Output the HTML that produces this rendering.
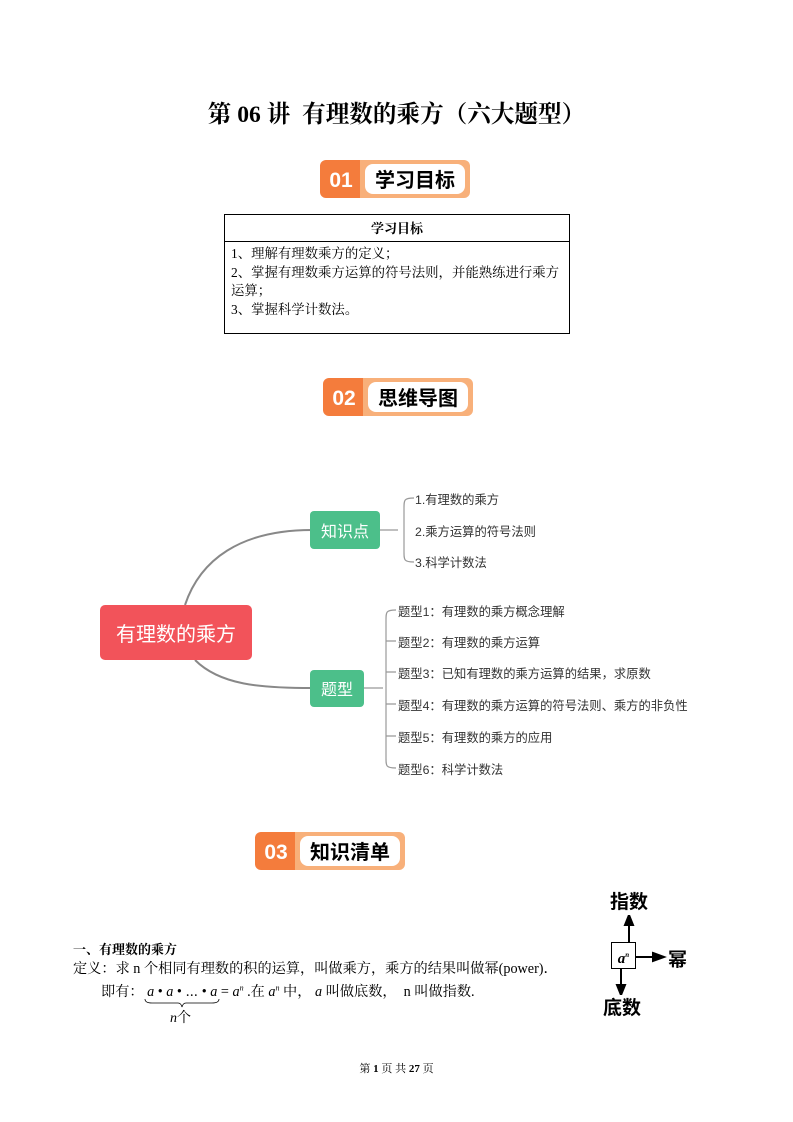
<!DOCTYPE html>
<html><head><meta charset="utf-8"><style>
body{margin:0;width:793px;height:1122px;background:#fff;position:relative;font-family:"Liberation Serif","Noto Serif CJK SC",serif;color:#000;overflow:hidden}
.a{position:absolute;white-space:nowrap}
.badge{position:absolute;width:150px;height:38px}
.badge .o{position:absolute;left:0;top:0;width:48px;height:38px;background:#f47c3c;border-radius:6px 0 0 6px;color:#fff;font:bold 21px "Liberation Sans",sans-serif;line-height:42px;text-align:center;padding-right:6px;box-sizing:border-box}
.badge .w{position:absolute;left:40px;top:0;width:110px;height:38px;background:#f8b07a;border-radius:0 6px 6px 0}
.badge .w div{position:absolute;left:5px;top:4px;right:5px;bottom:4px;background:#fff;border-radius:8px;font:bold 20px "Noto Sans CJK SC",sans-serif;line-height:30px;text-align:center}
.ss{font-family:"Liberation Sans","Noto Sans CJK SC",sans-serif;font-size:12.3px;color:#333}
</style></head><body>
<div class="a" style="left:0;width:793px;text-align:center;top:95px;font:bold 23.6px 'Liberation Serif','Noto Serif CJK SC',serif">第 06 讲&nbsp; 有理数的乘方（六大题型）</div>

<div class="badge" style="left:320px;top:160px"><div class="o">01</div><div class="w"><div>学习目标</div></div></div>
<div class="a" style="left:224px;top:214px;width:344px;height:118px;border:1px solid #000"></div>
<div class="a" style="left:224px;top:241px;width:346px;border-top:1px solid #000"></div>
<div class="a" style="left:224px;top:218px;width:346px;text-align:center;font-weight:bold;font-size:13px">学习目标</div>
<div class="a" style="left:231px;top:245px;font-size:13.4px;line-height:18.5px;white-space:normal;width:330px">1、理解有理数乘方的定义；<br>2、掌握有理数乘方运算的符号法则，并能熟练进行乘方运算；<br>3、掌握科学计数法。</div>

<div class="badge" style="left:323px;top:378px"><div class="o">02</div><div class="w"><div>思维导图</div></div></div>

<svg class="a" style="left:0;top:0" width="793" height="1122">
<g fill="none" stroke="#888" stroke-width="2">
<path d="M185 605 C200 560 240 530 312 530"/>
<path d="M195 660 C220 685 260 688 312 688"/>
</g>
<g fill="none" stroke="#999" stroke-width="1.2">
<path d="M380 530 H398"/>
<path d="M414 498 C404 498 404 500 404 508 V552 C404 560 404 562 414 562"/>
<path d="M364 688 H383"/>
<path d="M396 610 C386 610 386 612 386 620 V758 C386 766 386 768 396 768"/>
<path d="M386 641 C386 641 388 641 396 641 M386 672 H396 M386 704 H396 M386 736 H396"/>
</g>
</svg>
<div class="a" style="left:100px;top:605px;width:152px;height:55px;background:#f2535a;border-radius:5px;color:#fff;font:20px 'Noto Sans CJK SC',sans-serif;line-height:55px;text-align:center">有理数的乘方</div>
<div class="a" style="left:310px;top:511px;width:70px;height:38px;background:#4cbf8a;border-radius:4px;color:#fff;font:16px 'Noto Sans CJK SC',sans-serif;line-height:38px;text-align:center">知识点</div>
<div class="a" style="left:310px;top:670px;width:54px;height:37px;background:#4cbf8a;border-radius:4px;color:#fff;font:16px 'Noto Sans CJK SC',sans-serif;line-height:37px;text-align:center">题型</div>
<div class="a ss" style="left:415px;top:490px">1.有理数的乘方</div>
<div class="a ss" style="left:415px;top:522px">2.乘方运算的符号法则</div>
<div class="a ss" style="left:415px;top:553px">3.科学计数法</div>
<div class="a ss" style="left:398px;top:602px">题型1：有理数的乘方概念理解</div>
<div class="a ss" style="left:398px;top:633px">题型2：有理数的乘方运算</div>
<div class="a ss" style="left:398px;top:664px">题型3：已知有理数的乘方运算的结果，求原数</div>
<div class="a ss" style="left:398px;top:696px">题型4：有理数的乘方运算的符号法则、乘方的非负性</div>
<div class="a ss" style="left:398px;top:728px">题型5：有理数的乘方的应用</div>
<div class="a ss" style="left:398px;top:760px">题型6：科学计数法</div>

<div class="badge" style="left:255px;top:832px"><div class="o">03</div><div class="w"><div>知识清单</div></div></div>

<div class="a" style="left:73px;top:939px;font-weight:bold;font-size:13px">一、有理数的乘方</div>
<div class="a" style="left:73px;top:958px;font-size:14.2px">定义：求 n 个相同有理数的积的运算，叫做乘方，乘方的结果叫做幂(power)．</div>
<div class="a" style="left:101px;top:981px;font-size:14.2px">即有：&nbsp;<i>a</i> • <i>a</i> • ⋯ • <i>a</i> = <i>a</i><sup style="font-size:8px"><i>n</i></sup> .在 <i>a</i><sup style="font-size:8px"><i>n</i></sup> 中，&nbsp;<i>a</i> 叫做底数，&nbsp; n 叫做指数.</div>
<svg class="a" style="left:142px;top:997px" width="80" height="12"><path d="M3 2 Q3 6 10 6 H36 Q39 6 40 10 Q41 6 44 6 H70 Q77 6 77 2" fill="none" stroke="#000" stroke-width="0.8"/></svg>
<div class="a" style="left:170px;top:1007px;font-size:14px"><i>n</i>个</div>

<div class="a" style="left:610px;top:887px;font:bold 19px 'Noto Sans CJK SC',sans-serif">指数</div>
<div class="a" style="left:603px;top:993px;font:bold 19px 'Noto Sans CJK SC',sans-serif">底数</div>
<div class="a" style="left:668px;top:945px;font:bold 19px 'Noto Sans CJK SC',sans-serif">幂</div>
<div class="a" style="left:611px;top:942px;width:23px;height:25px;border:1px solid #000;font:bold italic 15px 'Liberation Serif',serif;line-height:25px;text-align:center">a<sup style="font-size:7px">n</sup></div>
<svg class="a" style="left:600px;top:915px" width="80" height="80">
<g stroke="#000" stroke-width="2" fill="#000">
<path d="M29 27 V8"/><path d="M25 10 L29 0 L33 10Z"/>
<path d="M21 53 V72"/><path d="M17 70 L21 80 L25 70Z"/>
<path d="M36 42 H55"/><path d="M53 38 L64 42 L53 46Z"/>
</g></svg>

<div class="a" style="left:0;width:793px;text-align:center;top:1060px;font-size:11px">第 <b>1</b> 页 共 <b>27</b> 页</div>
</body></html>
